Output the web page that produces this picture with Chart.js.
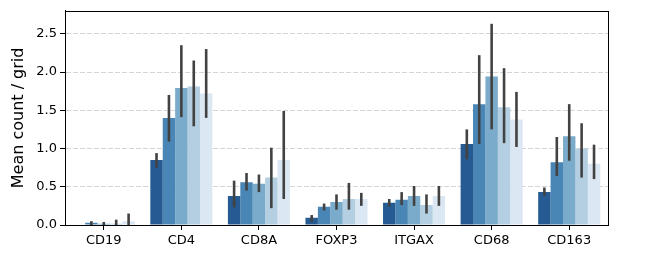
<!DOCTYPE html>
<html>
<head>
<meta charset="utf-8">
<script src="https://cdn.jsdelivr.net/npm/chart.js@4/dist/chart.umd.min.js"></script>
<style>
    html, body { margin: 0; padding: 0; background: #fff; }
    #wrap { width: 649px; height: 259px; }
</style>
</head>
<body>
<div id="wrap"><canvas id="chart" width="649" height="259"></canvas></div>
<script>
// Dữ liệu
const markers = ['CD19', 'CD4', 'CD8A', 'FOXP3', 'ITGAX', 'CD68', 'CD163'];
const groupNames = ['G1', 'G2', 'G3', 'G4', 'G5'];
const groupColors = ['#255b92', '#4a86b5', '#7aabcb', '#b4cfe2', '#dbe7f2'];

const means = [
    [0.00, 0.85, 0.38, 0.095, 0.29, 1.06, 0.43],
    [0.03, 1.40, 0.56, 0.24, 0.33, 1.58, 0.82],
    [0.015, 1.79, 0.54, 0.30, 0.38, 1.94, 1.16],
    [0.015, 1.81, 0.62, 0.34, 0.26, 1.54, 1.00],
    [0.05, 1.72, 0.85, 0.34, 0.38, 1.38, 0.80]
];
const errLow = [
    [0.00, 0.75, 0.23, 0.04, 0.24, 0.86, 0.38],
    [0.00, 1.09, 0.45, 0.19, 0.26, 1.06, 0.64],
    [0.00, 1.41, 0.43, 0.20, 0.25, 1.25, 0.84],
    [0.00, 1.29, 0.22, 0.20, 0.15, 1.07, 0.62],
    [0.00, 1.40, 0.34, 0.25, 0.25, 1.02, 0.60]
];
const errHigh = [
    [0.00, 0.94, 0.58, 0.13, 0.34, 1.25, 0.49],
    [0.05, 1.70, 0.68, 0.28, 0.43, 2.22, 1.15],
    [0.04, 2.35, 0.66, 0.40, 0.51, 2.63, 1.58],
    [0.07, 2.15, 1.01, 0.55, 0.40, 2.05, 1.33],
    [0.15, 2.30, 1.49, 0.42, 0.51, 1.74, 1.05]
];
const yTicks = [0, 0.5, 1.0, 1.5, 2.0, 2.5];

// Vẽ thanh sai số
const errorBars = {
    id: 'errorBars',
    afterDatasetsDraw(chart) {
        const c = chart.ctx;
        const y = chart.scales.y;
        c.save();
        c.strokeStyle = '#424242';
        c.lineWidth = 2.6;
        chart.data.datasets.forEach((ds, i) => {
            chart.getDatasetMeta(i).data.forEach((bar, j) => {
                const lo = errLow[i][j], hi = errHigh[i][j];
                if (hi - lo <= 0) return;
                c.beginPath();
                c.moveTo(bar.x, y.getPixelForValue(lo));
                c.lineTo(bar.x, y.getPixelForValue(hi));
                c.stroke();
            });
        });
        c.restore();
    }
};

// Khung viền trên và phải
const frame = {
    id: 'frame',
    afterDraw(chart) {
        const a = chart.chartArea;
        const c = chart.ctx;
        c.save();
        c.strokeStyle = '#000';
        c.lineWidth = 1;
        c.strokeRect(Math.round(a.left) + 0.5, Math.round(a.top) + 0.5,
            Math.round(a.right - a.left), Math.round(a.bottom - a.top));
        c.restore();
    }
};

const ctx = document.getElementById('chart').getContext('2d');
new Chart(ctx, {
    type: 'bar',
    data: {
        labels: markers,
        datasets: groupNames.map((name, i) => ({
            label: name,
            data: means[i],
            backgroundColor: groupColors[i],
            borderWidth: 0,
            categoryPercentage: 0.8,
            barPercentage: 1.0
        }))
    },
    options: {
        responsive: false,
        animation: false,
        layout: { padding: { top: 10, right: 41, left: 0, bottom: 0 } },
        plugins: {
            legend: { display: false },
            tooltip: { enabled: false }
        },
        scales: {
            x: {
                grid: {
                    offset: false,
                    drawOnChartArea: false,
                    tickLength: 5,
                    tickColor: '#000'
                },
                border: { color: '#000', width: 1 },
                ticks: {
                    color: '#000',
                    font: { family: 'DejaVu Sans', size: 13 },
                    padding: 3,
                    maxRotation: 0
                },
                afterFit(scale) { scale.height = 34; }
            },
            y: {
                min: 0,
                max: 2.8,
                afterBuildTicks(scale) {
                    scale.ticks = yTicks.map(v => ({ value: v }));
                },
                grid: {
                    color: '#d5d5d5',
                    tickColor: '#000',
                    tickLength: 5,
                    tickBorderDash: []
                },
                border: { color: '#000', width: 1, dash: [5, 2] },
                ticks: {
                    color: '#000',
                    font: { family: 'DejaVu Sans', size: 13 },
                    padding: 3,
                    callback: v => v.toFixed(1)
                },
                title: {
                    display: true,
                    text: 'Mean count / grid',
                    color: '#000',
                    font: { family: 'DejaVu Sans', size: 16 },
                    padding: { top: 9, bottom: 0 }
                },
                afterFit(scale) { scale.width = 65; }
            }
        }
    },
    plugins: [errorBars, frame]
});
</script>
</body>
</html>
